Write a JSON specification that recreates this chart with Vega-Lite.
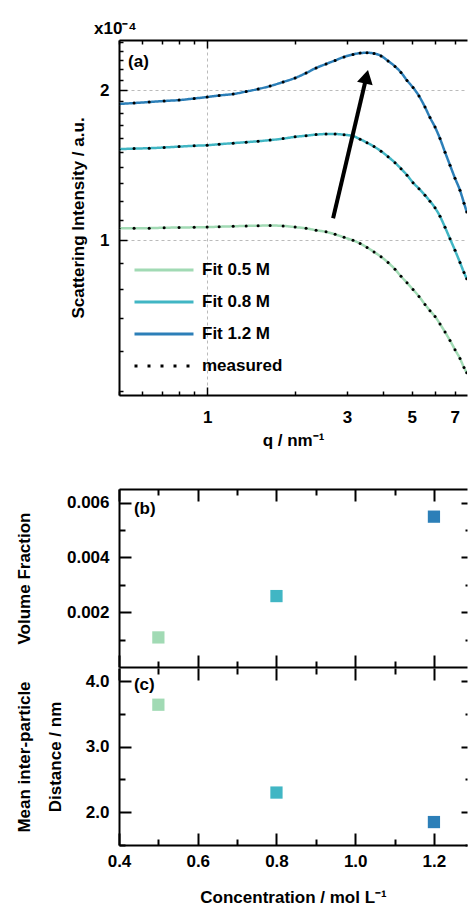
{
  "$schema": "https://vega.github.io/schema/vega-lite/v6.json",
  "background": "white",
  "padding": {"left": 14, "top": 19, "right": 0, "bottom": 0},
  "config": {
    "font": "Liberation Sans",
    "view": {"stroke": null},
    "axis": {
      "labelFont": "Liberation Sans", "labelFontSize": 17, "labelFontWeight": "bold", "labelColor": "#000",
      "titleFont": "Liberation Sans", "titleFontSize": 17, "titleFontWeight": "bold", "titleColor": "#000",
      "domainColor": "#000", "domainWidth": 2, "tickColor": "#000", "tickWidth": 2, "tickSize": -6, "ticks": true,
      "grid": false, "labelFlush": false, "labelOverlap": false, "labelBound": false
    }
  },
  "datasets": {
    "curves": [
      {"series":"Fit 0.5 M","q":0.500,"I":1.057},{"series":"Fit 0.5 M","q":0.563,"I":1.057},{"series":"Fit 0.5 M","q":0.634,"I":1.058},{"series":"Fit 0.5 M","q":0.713,"I":1.060},{"series":"Fit 0.5 M","q":0.802,"I":1.061},{"series":"Fit 0.5 M","q":0.903,"I":1.062},{"series":"Fit 0.5 M","q":1.000,"I":1.063},{"series":"Fit 0.5 M","q":1.099,"I":1.065},{"series":"Fit 0.5 M","q":1.227,"I":1.067},{"series":"Fit 0.5 M","q":1.359,"I":1.069},{"series":"Fit 0.5 M","q":1.493,"I":1.070},{"series":"Fit 0.5 M","q":1.641,"I":1.071},{"series":"Fit 0.5 M","q":1.817,"I":1.069},{"series":"Fit 0.5 M","q":1.997,"I":1.063},{"series":"Fit 0.5 M","q":2.177,"I":1.057},{"series":"Fit 0.5 M","q":2.355,"I":1.048},{"series":"Fit 0.5 M","q":2.547,"I":1.040},{"series":"Fit 0.5 M","q":2.735,"I":1.028},{"series":"Fit 0.5 M","q":2.935,"I":1.014},{"series":"Fit 0.5 M","q":3.149,"I":1.000},{"series":"Fit 0.5 M","q":3.329,"I":0.986},{"series":"Fit 0.5 M","q":3.516,"I":0.968},{"series":"Fit 0.5 M","q":3.715,"I":0.948},{"series":"Fit 0.5 M","q":3.926,"I":0.927},{"series":"Fit 0.5 M","q":4.148,"I":0.903},{"series":"Fit 0.5 M","q":4.381,"I":0.875},{"series":"Fit 0.5 M","q":4.593,"I":0.847},{"series":"Fit 0.5 M","q":4.815,"I":0.822},{"series":"Fit 0.5 M","q":5.048,"I":0.797},{"series":"Fit 0.5 M","q":5.291,"I":0.772},{"series":"Fit 0.5 M","q":5.546,"I":0.744},{"series":"Fit 0.5 M","q":5.768,"I":0.723},{"series":"Fit 0.5 M","q":6.001,"I":0.704},{"series":"Fit 0.5 M","q":6.241,"I":0.680},{"series":"Fit 0.5 M","q":6.492,"I":0.655},{"series":"Fit 0.5 M","q":6.752,"I":0.630},{"series":"Fit 0.5 M","q":7.022,"I":0.604},{"series":"Fit 0.5 M","q":7.302,"I":0.580},{"series":"Fit 0.5 M","q":7.537,"I":0.556},{"series":"Fit 0.5 M","q":7.700,"I":0.543},
      {"series":"Fit 0.8 M","q":0.500,"I":1.523},{"series":"Fit 0.8 M","q":0.563,"I":1.527},{"series":"Fit 0.8 M","q":0.634,"I":1.530},{"series":"Fit 0.8 M","q":0.713,"I":1.535},{"series":"Fit 0.8 M","q":0.802,"I":1.541},{"series":"Fit 0.8 M","q":0.903,"I":1.547},{"series":"Fit 0.8 M","q":1.000,"I":1.551},{"series":"Fit 0.8 M","q":1.099,"I":1.558},{"series":"Fit 0.8 M","q":1.227,"I":1.566},{"series":"Fit 0.8 M","q":1.359,"I":1.573},{"series":"Fit 0.8 M","q":1.493,"I":1.580},{"series":"Fit 0.8 M","q":1.641,"I":1.588},{"series":"Fit 0.8 M","q":1.817,"I":1.599},{"series":"Fit 0.8 M","q":1.997,"I":1.612},{"series":"Fit 0.8 M","q":2.177,"I":1.621},{"series":"Fit 0.8 M","q":2.355,"I":1.629},{"series":"Fit 0.8 M","q":2.547,"I":1.633},{"series":"Fit 0.8 M","q":2.735,"I":1.633},{"series":"Fit 0.8 M","q":2.935,"I":1.628},{"series":"Fit 0.8 M","q":3.149,"I":1.618},{"series":"Fit 0.8 M","q":3.329,"I":1.595},{"series":"Fit 0.8 M","q":3.516,"I":1.569},{"series":"Fit 0.8 M","q":3.715,"I":1.541},{"series":"Fit 0.8 M","q":3.926,"I":1.509},{"series":"Fit 0.8 M","q":4.148,"I":1.471},{"series":"Fit 0.8 M","q":4.381,"I":1.431},{"series":"Fit 0.8 M","q":4.593,"I":1.392},{"series":"Fit 0.8 M","q":4.815,"I":1.351},{"series":"Fit 0.8 M","q":5.048,"I":1.305},{"series":"Fit 0.8 M","q":5.291,"I":1.269},{"series":"Fit 0.8 M","q":5.546,"I":1.231},{"series":"Fit 0.8 M","q":5.768,"I":1.198},{"series":"Fit 0.8 M","q":6.001,"I":1.162},{"series":"Fit 0.8 M","q":6.241,"I":1.117},{"series":"Fit 0.8 M","q":6.492,"I":1.062},{"series":"Fit 0.8 M","q":6.752,"I":1.007},{"series":"Fit 0.8 M","q":7.022,"I":0.955},{"series":"Fit 0.8 M","q":7.302,"I":0.903},{"series":"Fit 0.8 M","q":7.537,"I":0.862},{"series":"Fit 0.8 M","q":7.700,"I":0.838},
      {"series":"Fit 1.2 M","q":0.500,"I":1.876},{"series":"Fit 1.2 M","q":0.563,"I":1.884},{"series":"Fit 1.2 M","q":0.634,"I":1.893},{"series":"Fit 1.2 M","q":0.713,"I":1.902},{"series":"Fit 1.2 M","q":0.802,"I":1.910},{"series":"Fit 1.2 M","q":0.903,"I":1.924},{"series":"Fit 1.2 M","q":1.000,"I":1.937},{"series":"Fit 1.2 M","q":1.099,"I":1.951},{"series":"Fit 1.2 M","q":1.227,"I":1.964},{"series":"Fit 1.2 M","q":1.359,"I":1.987},{"series":"Fit 1.2 M","q":1.493,"I":2.010},{"series":"Fit 1.2 M","q":1.641,"I":2.038},{"series":"Fit 1.2 M","q":1.817,"I":2.076},{"series":"Fit 1.2 M","q":1.997,"I":2.115},{"series":"Fit 1.2 M","q":2.177,"I":2.164},{"series":"Fit 1.2 M","q":2.355,"I":2.215},{"series":"Fit 1.2 M","q":2.547,"I":2.256},{"series":"Fit 1.2 M","q":2.735,"I":2.293},{"series":"Fit 1.2 M","q":2.935,"I":2.331},{"series":"Fit 1.2 M","q":3.149,"I":2.358},{"series":"Fit 1.2 M","q":3.329,"I":2.372},{"series":"Fit 1.2 M","q":3.516,"I":2.376},{"series":"Fit 1.2 M","q":3.715,"I":2.369},{"series":"Fit 1.2 M","q":3.926,"I":2.342},{"series":"Fit 1.2 M","q":4.148,"I":2.288},{"series":"Fit 1.2 M","q":4.381,"I":2.231},{"series":"Fit 1.2 M","q":4.593,"I":2.169},{"series":"Fit 1.2 M","q":4.815,"I":2.091},{"series":"Fit 1.2 M","q":5.048,"I":2.024},{"series":"Fit 1.2 M","q":5.291,"I":1.946},{"series":"Fit 1.2 M","q":5.546,"I":1.849},{"series":"Fit 1.2 M","q":5.768,"I":1.762},{"series":"Fit 1.2 M","q":6.001,"I":1.686},{"series":"Fit 1.2 M","q":6.241,"I":1.599},{"series":"Fit 1.2 M","q":6.492,"I":1.502},{"series":"Fit 1.2 M","q":6.752,"I":1.414},{"series":"Fit 1.2 M","q":7.022,"I":1.332},{"series":"Fit 1.2 M","q":7.302,"I":1.260},{"series":"Fit 1.2 M","q":7.537,"I":1.187},{"series":"Fit 1.2 M","q":7.700,"I":1.140}
    ],
    "arrow": [{"q":2.692,"I":1.107,"q2":3.499,"I2":2.127}],
    "params": [
      {"series":"Fit 0.5 M","conc":0.5,"vf":0.00108,"dist":3.64},
      {"series":"Fit 0.8 M","conc":0.8,"vf":0.00259,"dist":2.30},
      {"series":"Fit 1.2 M","conc":1.2,"vf":0.00549,"dist":1.85}
    ]
  },
  "resolve": {"scale": {"color": "independent", "strokeDash": "independent"}},
  "spacing": 40,
  "vconcat": [
    {
      "width": 348, "height": 355,
      "title": {"text": "x10\u207b\u2074", "anchor": "start", "frame": "group", "dx": -25, "offset": -18, "fontSize": 17, "fontWeight": "bold", "font": "Liberation Sans", "color": "#000", "baseline": "alphabetic"},
      "resolve": {"axis": {"x": "independent"}},
      "layer": [
        {
          "data": {"name": "curves"},
          "mark": {"type": "line", "strokeWidth": 2.5, "interpolate": "monotone", "clip": true},
          "encoding": {
            "x": {"field": "q", "type": "quantitative", "scale": {"type": "log", "domain": [0.5, 7.716], "nice": false},
              "axis": {"orient": "bottom", "title": "q / nm\u207b\u00b9", "values": [0.5,0.6,0.7,0.8,0.9,1,2,3,4,5,6,7],
                "labelExpr": "(datum.value==1||datum.value==3||datum.value==5||datum.value==7) ? format(datum.value,'d') : ''",
                "tickSize": {"condition": {"test": "datum.value==1", "value": -8}, "value": -4},
                "labelPadding": {"condition": {"test": "datum.value==1", "value": 22}, "value": 18},
                "titlePadding": 7, "tickWidth": 1.5,
                "grid": true, "gridColor": "#bbbbbb", "gridDash": [3,3], "gridWidth": 1,
                "gridOpacity": {"condition": {"test": "datum.value==1", "value": 1}, "value": 0}}},
            "y": {"field": "I", "type": "quantitative", "scale": {"type": "log", "domain": [0.49, 2.52], "nice": false},
              "axis": {"title": "Scattering Intensity / a.u.", "titleX": -41, "titleBaseline": "middle",
                "values": [0.5,0.6,0.7,0.8,0.9,1,1.1,1.2,1.3,1.4,1.5,1.6,1.7,1.8,1.9,2,2.1,2.2,2.3,2.4,2.5],
                "labelExpr": "(datum.value==1||datum.value==2) ? format(datum.value,'d') : ''",
                "tickSize": {"condition": {"test": "datum.value==1||datum.value==2", "value": -8}, "value": -4},
                "labelPadding": {"condition": {"test": "datum.value==1||datum.value==2", "value": 18}, "value": 14},
                "tickWidth": 1.5,
                "grid": true, "gridColor": "#bbbbbb", "gridDash": [3,3], "gridWidth": 1,
                "gridOpacity": {"condition": {"test": "datum.value==1||datum.value==2", "value": 1}, "value": 0}}},
            "color": {"field": "series", "type": "nominal",
              "scale": {"domain": ["Fit 0.5 M","Fit 0.8 M","Fit 1.2 M","measured"], "range": ["#a1dab4","#41b6c4","#2c7fb8","#000000"]},
              "legend": {"orient": "none", "legendX": 14, "legendY": 214, "title": null, "symbolType": "stroke", "symbolSize": 3481, "symbolStrokeWidth": 3,
                "labelFontSize": 17, "labelFontWeight": "bold", "labelFont": "Liberation Sans", "labelColor": "#000", "clipHeight": 32, "rowPadding": 0, "labelOffset": 7, "padding": 0}},
            "strokeDash": {"field": "series", "type": "nominal",
              "scale": {"domain": ["Fit 0.5 M","Fit 0.8 M","Fit 1.2 M","measured"], "range": [[1,0],[1,0],[1,0],[3,10]]},
              "legend": {"orient": "none", "legendX": 14, "legendY": 214, "title": null, "symbolType": "stroke", "symbolSize": 3481, "symbolStrokeWidth": 3,
                "labelFontSize": 17, "labelFontWeight": "bold", "labelFont": "Liberation Sans", "labelColor": "#000", "clipHeight": 32, "rowPadding": 0, "labelOffset": 7, "padding": 0}}
          }
        },
        {
          "data": {"name": "curves"},
          "mark": {"type": "point", "shape": "circle", "filled": true, "size": 9, "color": "#000", "opacity": 1, "clip": true},
          "encoding": {
            "x": {"field": "q", "type": "quantitative", "scale": {"type": "log", "domain": [0.5, 7.716], "nice": false},
              "axis": {"orient": "top", "labels": false, "title": null, "values": [0.5,0.6,0.7,0.8,0.9,1,2,3,4,5,6,7], "tickWidth": 1.5,
                "tickSize": {"condition": {"test": "datum.value==1", "value": -8}, "value": -4}}},
            "y": {"field": "I", "type": "quantitative", "scale": {"type": "log", "domain": [0.49, 2.52], "nice": false}}
          }
        },
        {
          "data": {"name": "arrow"},
          "mark": {"type": "rule", "strokeWidth": 4, "color": "#000"},
          "encoding": {
            "x": {"field": "q", "type": "quantitative", "scale": {"type": "log", "domain": [0.5, 7.716], "nice": false}, "axis": null},
            "x2": {"field": "q2"},
            "y": {"field": "I", "type": "quantitative", "scale": {"type": "log", "domain": [0.49, 2.52], "nice": false}},
            "y2": {"field": "I2"}
          }
        },
        {
          "data": {"name": "arrow"},
          "mark": {"type": "point", "shape": "triangle-up", "filled": true, "size": 256, "angle": 13, "color": "#000", "opacity": 1},
          "encoding": {
            "x": {"field": "q2", "type": "quantitative", "scale": {"type": "log", "domain": [0.5, 7.716], "nice": false}, "axis": null},
            "y": {"field": "I2", "type": "quantitative", "scale": {"type": "log", "domain": [0.49, 2.52], "nice": false}}
          }
        },
        {
          "data": {"values": [{"q": 0.537, "I": 2.28, "label": "(a)"}]},
          "mark": {"type": "text", "align": "left", "baseline": "middle", "fontSize": 17, "fontWeight": "bold", "font": "Liberation Sans", "color": "#000"},
          "encoding": {
            "x": {"field": "q", "type": "quantitative", "scale": {"type": "log", "domain": [0.5, 7.716], "nice": false}, "axis": null},
            "y": {"field": "I", "type": "quantitative", "scale": {"type": "log", "domain": [0.49, 2.52], "nice": false}},
            "text": {"field": "label"}
          }
        }
      ]
    },
    {
      "spacing": -1,
      "vconcat": [
        {
          "width": 348, "height": 178,
          "resolve": {"axis": {"x": "independent", "y": "independent"}},
          "layer": [
            {
              "data": {"name": "params"},
              "mark": {"type": "point", "shape": "square", "filled": true, "size": 150, "opacity": 1},
              "encoding": {
                "x": {"field": "conc", "type": "quantitative", "scale": {"domain": [0.4, 1.284], "nice": false, "zero": false},
                  "axis": {"orient": "bottom", "labels": false, "title": null, "values": [0.4,0.5,0.6,0.7,0.8,0.9,1.0,1.1,1.2],
                    "tickSize": {"condition": {"test": "round(datum.value*10)%2==0", "value": -12}, "value": -6}}},
                "y": {"field": "vf", "type": "quantitative", "scale": {"domain": [0, 0.0065], "nice": false, "zero": false},
                  "axis": {"orient": "left", "title": "Volume Fraction", "titleX": -95, "titleBaseline": "middle", "values": [0.001,0.002,0.003,0.004,0.005,0.006],
                    "format": ".3f", "labelExpr": "round(datum.value*1000)%2==0 ? datum.label : ''",
                    "tickSize": {"condition": {"test": "round(datum.value*1000)%2==0", "value": -12}, "value": -6},
                    "labelPadding": {"condition": {"test": "round(datum.value*1000)%2==0", "value": 22}, "value": 16}}},
                "color": {"field": "series", "type": "nominal",
                  "scale": {"domain": ["Fit 0.5 M","Fit 0.8 M","Fit 1.2 M","measured"], "range": ["#a1dab4","#41b6c4","#2c7fb8","#000000"]}, "legend": null}
              }
            },
            {
              "data": {"values": [{"conc": 0.438, "vf": 0.00578, "label": "(b)"}]},
              "mark": {"type": "text", "align": "left", "baseline": "middle", "fontSize": 17, "fontWeight": "bold", "font": "Liberation Sans", "color": "#000"},
              "encoding": {
                "x": {"field": "conc", "type": "quantitative", "scale": {"domain": [0.4, 1.284], "nice": false, "zero": false},
                  "axis": {"orient": "top", "labels": false, "title": null, "values": [0.4,0.5,0.6,0.7,0.8,0.9,1.0,1.1,1.2],
                    "tickSize": {"condition": {"test": "round(datum.value*10)%2==0", "value": -12}, "value": -6}}},
                "y": {"field": "vf", "type": "quantitative", "scale": {"domain": [0, 0.0065], "nice": false, "zero": false},
                  "axis": {"orient": "right", "labels": false, "title": null, "domain": false, "values": [0.001,0.002,0.003,0.004,0.005,0.006],
                    "tickSize": {"condition": {"test": "round(datum.value*1000)%2==0", "value": -6}, "value": -2}}},
                "text": {"field": "label"}
              }
            }
          ]
        },
        {
          "width": 348, "height": 177,
          "resolve": {"axis": {"x": "independent", "y": "independent"}},
          "layer": [
            {
              "data": {"name": "params"},
              "mark": {"type": "point", "shape": "square", "filled": true, "size": 150, "opacity": 1},
              "encoding": {
                "x": {"field": "conc", "type": "quantitative", "scale": {"domain": [0.4, 1.284], "nice": false, "zero": false},
                  "axis": {"orient": "bottom", "title": "Concentration / mol L\u207b\u00b9", "values": [0.4,0.5,0.6,0.7,0.8,0.9,1.0,1.1,1.2],
                    "format": ".1f", "labelExpr": "round(datum.value*10)%2==0 ? datum.label : ''",
                    "tickSize": {"condition": {"test": "round(datum.value*10)%2==0", "value": -12}, "value": -6},
                    "labelPadding": {"condition": {"test": "round(datum.value*10)%2==0", "value": 20}, "value": 14},
                    "titlePadding": 20}},
                "y": {"field": "dist", "type": "quantitative", "scale": {"domain": [1.5, 4.2], "nice": false, "zero": false},
                  "axis": {"orient": "left", "title": ["Mean inter-particle", "Distance / nm"], "titleX": -95, "titleBaseline": "middle", "titleLineHeight": 31,
                    "values": [1.5,2,2.5,3,3.5,4],
                    "format": ".1f", "labelExpr": "round(datum.value*10)%10==0 ? datum.label : ''",
                    "tickSize": {"condition": {"test": "round(datum.value*10)%10==0", "value": -12}, "value": -6},
                    "labelPadding": {"condition": {"test": "round(datum.value*10)%10==0", "value": 22}, "value": 16}}},
                "color": {"field": "series", "type": "nominal",
                  "scale": {"domain": ["Fit 0.5 M","Fit 0.8 M","Fit 1.2 M","measured"], "range": ["#a1dab4","#41b6c4","#2c7fb8","#000000"]}, "legend": null}
              }
            },
            {
              "data": {"values": [{"conc": 0.438, "dist": 3.945, "label": "(c)"}]},
              "mark": {"type": "text", "align": "left", "baseline": "middle", "fontSize": 17, "fontWeight": "bold", "font": "Liberation Sans", "color": "#000"},
              "encoding": {
                "x": {"field": "conc", "type": "quantitative", "scale": {"domain": [0.4, 1.284], "nice": false, "zero": false},
                  "axis": {"orient": "top", "labels": false, "title": null, "domain": false, "values": [0.4,0.5,0.6,0.7,0.8,0.9,1.0,1.1,1.2],
                    "tickSize": {"condition": {"test": "round(datum.value*10)%2==0", "value": -12}, "value": -6}}},
                "y": {"field": "dist", "type": "quantitative", "scale": {"domain": [1.5, 4.2], "nice": false, "zero": false},
                  "axis": {"orient": "right", "labels": false, "title": null, "domain": false, "values": [1.5,2,2.5,3,3.5,4],
                    "tickSize": {"condition": {"test": "round(datum.value*10)%10==0", "value": -6}, "value": -2}}},
                "text": {"field": "label"}
              }
            }
          ]
        }
      ]
    }
  ]
}
